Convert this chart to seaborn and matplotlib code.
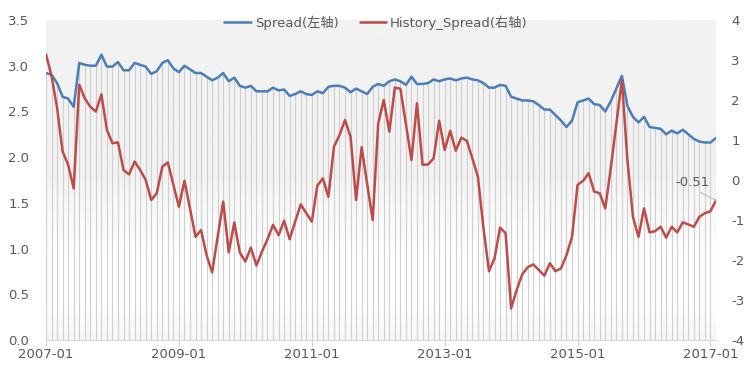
import numpy as np
import pandas as pd
import seaborn as sns
import matplotlib.pyplot as plt

# monthly values, 2007-01 onwards
spread = [2.92, 2.90, 2.81, 2.66, 2.64, 2.55, 3.03, 3.01, 3.00, 3.00,
          3.12, 2.99, 2.99, 3.04, 2.95, 2.95, 3.03, 3.01, 2.99, 2.91,
          2.94, 3.03, 3.06, 2.97, 2.93, 3.00, 2.96, 2.92, 2.92, 2.88,
          2.84, 2.87, 2.92, 2.83, 2.87, 2.78, 2.76, 2.78, 2.72, 2.72,
          2.72, 2.76, 2.73, 2.74, 2.67, 2.69, 2.72, 2.69, 2.68, 2.72,
          2.70, 2.77, 2.78, 2.78, 2.76, 2.71, 2.75, 2.72, 2.69, 2.77,
          2.80, 2.78, 2.83, 2.85, 2.83, 2.79, 2.88, 2.80, 2.80, 2.81,
          2.85, 2.83, 2.85, 2.86, 2.84, 2.86, 2.87, 2.85, 2.84, 2.81,
          2.76, 2.76, 2.79, 2.78, 2.66, 2.64, 2.62, 2.62, 2.61, 2.57,
          2.52, 2.52, 2.46, 2.40, 2.33, 2.40, 2.60, 2.62, 2.64, 2.58,
          2.57, 2.50, 2.61, 2.75, 2.89, 2.56, 2.44, 2.38, 2.44, 2.33,
          2.32, 2.31, 2.25, 2.29, 2.26, 2.30, 2.25, 2.20, 2.17, 2.16,
          2.16, 2.21]

history_spread = [3.14, 2.60, 1.80, 0.71, 0.38, -0.21, 2.38, 2.04, 1.83, 1.71,
                  2.14, 1.25, 0.92, 0.94, 0.25, 0.14, 0.46, 0.25, 0.00, -0.50,
                  -0.33, 0.33, 0.44, -0.12, -0.67, -0.02, -0.71, -1.42, -1.25, -1.88,
                  -2.31, -1.42, -0.54, -1.81, -1.06, -1.81, -2.04, -1.69, -2.14, -1.79,
                  -1.48, -1.12, -1.38, -1.02, -1.48, -1.04, -0.61, -0.83, -1.04, -0.14,
                  0.04, -0.42, 0.83, 1.12, 1.50, 1.08, -0.50, 0.82, -0.10, -1.00,
                  1.42, 2.00, 1.21, 2.31, 2.28, 1.40, 0.50, 1.92, 0.38, 0.39,
                  0.54, 1.48, 0.75, 1.23, 0.73, 1.06, 0.98, 0.54, 0.08, -1.20,
                  -2.28, -1.96, -1.19, -1.33, -3.21, -2.75, -2.36, -2.18, -2.11, -2.25,
                  -2.39, -2.08, -2.28, -2.21, -1.88, -1.42, -0.12, -0.02, 0.17, -0.29,
                  -0.33, -0.71, 0.30, 1.40, 2.50, 0.50, -0.92, -1.42, -0.71, -1.31,
                  -1.28, -1.17, -1.44, -1.17, -1.31, -1.06, -1.11, -1.17, -0.92, -0.83,
                  -0.78, -0.51]

months = list(pd.date_range('2007-01-01', periods=len(spread), freq='MS').strftime('%Y-%m'))
tick_labels = ['2007-01', '2009-01', '2011-01', '2013-01', '2015-01', '2017-01']
left_ticks = [0.0, 0.5, 1.0, 1.5, 2.0, 2.5, 3.0, 3.5]
right_ticks = [-4, -3, -2, -1, 0, 1, 2, 3, 4]

blue = '#4a7ebb'
red = '#be4b48'
grey_text = '#595959'

sns.set_theme(style='white')
plt.rcParams['font.family'] = ['DejaVu Sans', 'Noto Sans CJK SC']
plt.rcParams['axes.unicode_minus'] = False

df = pd.DataFrame({'pos': np.arange(len(spread)), 'month': months,
                   'Spread': spread, 'History_Spread': history_spread})

fig = plt.figure(figsize=(7.47, 3.75), dpi=100)
ax = fig.add_axes([0.0616, 0.0933, 0.8969, 0.8534])

# plot area gradient (grey on top fading to white lower down)
frac = np.linspace(0, 1, 300)
shade = np.interp(frac, [0.0, 0.12, 0.25, 0.49, 0.5, 1.0],
                  [0.965, 1.0, 1.0, 0.957, 0.949, 0.949])
ax.imshow(shade[::-1].reshape(-1, 1), extent=[0, 1, 0, 1], transform=ax.transAxes,
          aspect='auto', cmap='gray', vmin=0, vmax=1, zorder=0, interpolation='bilinear')

# drop lines of the left-axis series
ax.vlines(df['pos'], 0, df['Spread'], color='#cfcfcf', lw=0.8, zorder=1)
sns.lineplot(data=df, x='pos', y='Spread', ax=ax, color=blue, lw=1.8,
             legend=False, zorder=3)

ax2 = ax.twinx()
sns.lineplot(data=df, x='pos', y='History_Spread', ax=ax2, color=red, lw=1.8,
             legend=False, zorder=3)

ax.set_xlim(0, len(spread) - 1)
ax.set_ylim(0, 3.5)
ax2.set_ylim(-4, 4)

ax.set_xticks([months.index(t) for t in tick_labels])
ax.set_xticklabels(tick_labels)
ax.set_yticks(left_ticks)
ax.set_yticklabels(['{:.1f}'.format(v) for v in left_ticks])
ax2.set_yticks(right_ticks)
ax2.set_yticklabels([str(v) for v in right_ticks])

ax.set_xlabel('')
ax.set_ylabel('')
ax2.set_ylabel('')
ax.tick_params(axis='x', colors='#d0d0d0', labelcolor=grey_text, labelsize=9.5,
               length=4, width=0.8, pad=2, bottom=True, direction='out')
ax.tick_params(axis='y', labelcolor=grey_text, labelsize=9.5, length=0, pad=12)
ax2.tick_params(axis='y', labelcolor=grey_text, labelsize=9.5, length=0, pad=11)

for s in ['top', 'left', 'right']:
    ax.spines[s].set_visible(False)
ax.spines['bottom'].set_color('#d9d9d9')
ax.spines['bottom'].set_linewidth(0.8)
for s in ax2.spines.values():
    s.set_visible(False)

# last value label
last = len(history_spread) - 1
ax2.annotate('{:.2f}'.format(history_spread[last]), xy=(last, history_spread[last]),
             xytext=(last - 4.2, history_spread[last] + 0.46), ha='center', va='center',
             fontsize=9.5, color=grey_text,
             arrowprops=dict(arrowstyle='-', color='#bfbfbf', lw=0.8, shrinkA=1, shrinkB=0,
                             relpos=(0.5, 0.0)))

handles = [plt.Line2D([], [], color=blue, lw=1.8), plt.Line2D([], [], color=red, lw=1.8)]
ax2.legend(handles, ['Spread(左轴)', 'History_Spread(右轴)'], loc='center',
           bbox_to_anchor=(0.4925, 0.992), ncol=2, frameon=False, fontsize=9.5,
           handlelength=2.0, handletextpad=0.3, columnspacing=1.6, labelcolor=grey_text)

plt.savefig('out.png', dpi=100)
